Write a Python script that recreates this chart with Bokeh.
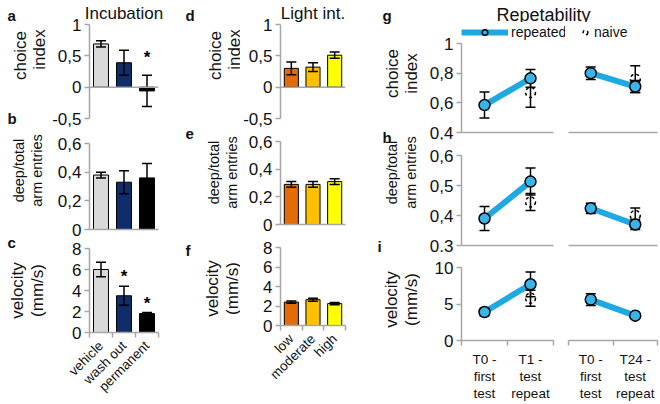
import math
import numpy as np
from bokeh.plotting import figure
from bokeh.layouts import row, column
from bokeh.models import (Range1d, FixedTicker, CustomJSTickFormatter, Span, Label,
                          Legend, LegendItem, ColumnDataSource)
from bokeh.embed import file_html
from bokeh.resources import INLINE
from bokeh.core.properties import value

# ---------------- data ----------------
incub_cats = ["vehicle", "wash out", "permanent"]
incub_choice = [0.69, 0.39, -0.06]
incub_choice_err = [0.05, 0.20, 0.25]
incub_choice_star = [None, None, 0.47]
incub_deep = [0.38, 0.33, 0.36]
incub_deep_err = [0.02, 0.08, 0.10]
incub_vel = [6.0, 3.5, 1.8]
incub_vel_err = [0.7, 0.9, 0.1]
incub_vel_star = [None, 5.3, 2.8]

light_cats = ["low", "moderate", "high"]
light_choice = [0.30, 0.32, 0.51]
light_choice_err = [0.10, 0.07, 0.05]
light_deep = [0.29, 0.29, 0.31]
light_deep_err = [0.02, 0.02, 0.02]
light_vel = [2.4, 2.65, 2.25]
light_vel_err = [0.12, 0.15, 0.12]

choice_ticks = [-0.5, 0, 0.5, 1]
deep_ticks = [0, 0.2, 0.4, 0.6]
vel_ticks = [0, 2, 4, 6, 8]

rep_labels_t1 = ["T0 -\nfirst\ntest", "T1 -\ntest\nrepeat"]
rep_labels_t24 = ["T0 -\nfirst\ntest", "T24 -\ntest\nrepeat"]
rep_choice_t1 = [0.585, 0.765]
rep_choice_t1_err = [0.088, 0.06]
naive_choice_t1 = [None, 0.67]
naive_choice_t1_err = [None, 0.10]
rep_choice_t24 = [0.80, 0.71]
rep_choice_t24_err = [0.042, 0.04]
naive_choice_t24 = [None, 0.76]
naive_choice_t24_err = [None, 0.09]
rep_deep_t1 = [0.39, 0.513]
rep_deep_t1_err = [0.04, 0.045]
naive_deep_t1 = [None, 0.445]
naive_deep_t1_err = [None, 0.028]
rep_deep_t24 = [0.424, 0.37]
rep_deep_t24_err = [0.017, 0.017]
naive_deep_t24 = [None, 0.40]
naive_deep_t24_err = [None, 0.025]
rep_vel_t1 = [3.9, 7.7]
rep_vel_t1_err = [0.5, 1.7]
naive_vel_t1 = [None, 5.8]
naive_vel_t1_err = [None, 1.1]
rep_vel_t24 = [5.6, 3.4]
rep_vel_t24_err = [0.8, 0.25]
naive_vel_t24 = [None, 3.4]
naive_vel_t24_err = [None, 0.2]
rep_choice_ticks = [0.4, 0.6, 0.8, 1]
rep_deep_ticks = [0.3, 0.4, 0.5, 0.6]
rep_vel_ticks = [0, 5, 10]

# ---------------- styles ----------------
FONT = "Liberation Sans"
GRAY = "#A6A6A6"
TXT = "#111111"
incub_colors = ["#D9D9D9", "#0F2D6B", "#000000"]
light_colors = ["#E36C09", "#FFC000", "#FFFF00"]
BLUE_LINE = "#1FA9E3"
BLUE_FILL = "#38B4E6"
TICK_FS = "17px"

num_fmt = "return String(Math.round(tick*10)/10).replace('.', ',')"


def make_fig(w, h, bl, br, bt, bb, xr, yr, yaxis=True, xaxis=True):
    p = figure(width=w, height=h, x_range=Range1d(*xr), y_range=Range1d(*yr),
               output_backend="svg", toolbar_location=None,
               min_border_left=bl, min_border_right=br, min_border_top=bt, min_border_bottom=bb,
               x_axis_location="below" if xaxis else None,
               y_axis_location="left" if yaxis else None)
    p.outline_line_color = None
    p.grid.visible = False
    p.background_fill_color = "white"
    p.border_fill_color = "white"
    return p


def strip(w, h):
    s = figure(width=w, height=h, x_range=Range1d(0, 1), y_range=Range1d(0, 1),
               output_backend="svg", toolbar_location=None,
               x_axis_location=None, y_axis_location=None,
               min_border_left=0, min_border_right=0, min_border_top=0, min_border_bottom=0)
    s.outline_line_color = None
    s.grid.visible = False
    return s


def put(s, x0, y0, h, X, Y, text, fs, bold=False, align="left", angle=0.0):
    s.add_layout(Label(x=X - x0, y=h - (Y - y0), x_units="screen", y_units="screen",
                       angle=angle, text=text, text_font=FONT, text_font_size=fs,
                       text_font_style="bold" if bold else "normal", text_color=TXT,
                       text_align=align, text_baseline="alphabetic"))


def set_title(p, text):
    p.title.text = text
    p.title.align = "center"
    p.title.text_font = FONT
    p.title.text_font_size = "17px"
    p.title.text_font_style = "normal"
    p.title.text_color = TXT
    p.title.standoff = 3


def style_yaxis(p, ticks, bounds=None):
    ax = p.yaxis[0]
    ax.ticker = FixedTicker(ticks=ticks, minor_ticks=[])
    ax.formatter = CustomJSTickFormatter(code=num_fmt)
    if bounds is not None:
        ax.bounds = bounds
    ax.axis_line_color = GRAY
    ax.axis_line_width = 1.5
    ax.major_tick_line_color = GRAY
    ax.major_tick_line_width = 1.5
    ax.major_tick_out = 5
    ax.major_tick_in = 0
    ax.minor_tick_line_color = None
    ax.major_label_text_font = FONT
    ax.major_label_text_font_size = TICK_FS
    ax.major_label_text_color = TXT
    ax.major_label_standoff = 3


def style_xaxis_line(p, bounds=None):
    ax = p.xaxis[0]
    ax.ticker = FixedTicker(ticks=[], minor_ticks=[])
    if bounds is not None:
        ax.bounds = bounds
    ax.axis_line_color = GRAY
    ax.axis_line_width = 1.5
    ax.major_tick_line_color = None
    ax.minor_tick_line_color = None
    ax.major_tick_out = 0
    ax.major_tick_in = 0
    ax.minor_tick_out = 0
    ax.major_label_standoff = 0
    ax.major_label_text_font_size = "0px"


def style_xaxis_cat(p, labels, fs, orientation, line_height=1.2):
    n = len(labels)
    ax = p.xaxis[0]
    ax.ticker = FixedTicker(ticks=[i + 0.5 for i in range(n)], minor_ticks=list(range(n + 1)))
    ax.formatter = CustomJSTickFormatter(args=dict(labels=labels), code="return labels[Math.floor(tick)]")
    ax.axis_line_color = GRAY
    ax.axis_line_width = 1.5
    ax.major_tick_line_color = None
    ax.major_tick_out = 0
    ax.major_tick_in = 0
    ax.minor_tick_line_color = GRAY
    ax.minor_tick_line_width = 1.5
    ax.minor_tick_out = 5
    ax.minor_tick_in = 0
    ax.major_label_text_font = FONT
    ax.major_label_text_font_size = fs
    ax.major_label_text_color = TXT
    ax.major_label_text_line_height = line_height
    ax.major_label_standoff = 6
    ax.major_label_orientation = orientation


def bars(p, vals, errs, colors, stars=None):
    n = len(vals)
    xs = np.arange(n) + 0.5
    v = np.array(vals, dtype=float)
    e = np.array(errs, dtype=float)
    src = ColumnDataSource(dict(x=xs, top=v, lo=v - e, hi=v + e, color=colors))
    p.vbar(x="x", top="top", bottom=0, width=0.65, fill_color="color", line_color="black",
           line_width=1, source=src)
    p.segment(x0="x", y0="lo", x1="x", y1="hi", line_color="black", line_width=1.5, source=src)
    p.scatter(x="x", y="hi", marker="dash", size=10, line_color="black", line_width=1.5, source=src)
    p.scatter(x="x", y="lo", marker="dash", size=10, line_color="black", line_width=1.5, source=src)
    if stars is not None:
        sx = [x for x, s in zip(xs, stars) if s is not None]
        sy = [s for s in stars if s is not None]
        p.text(x=sx, y=sy, text=["*"] * len(sx), text_font=value(FONT), text_font_size="17px",
               text_font_style="bold", text_align="center", text_baseline="middle", text_color="black")


def rep(p, vals, errs, nvals, nerrs):
    xs = np.arange(len(vals)) + 0.5
    v = np.array(vals, dtype=float)
    e = np.array(errs, dtype=float)
    line_r = p.line(x=xs, y=v, line_color=BLUE_LINE, line_width=6)
    nx = [x for x, nv in zip(xs, nvals) if nv is not None]
    nv = np.array([a for a in nvals if a is not None], dtype=float)
    ne = np.array([a for a in nerrs if a is not None], dtype=float)
    nsrc = ColumnDataSource(dict(x=nx, y=nv, lo=nv - ne, hi=nv + ne))
    p.segment(x0="x", y0="lo", x1="x", y1="hi", line_color="black", line_width=1.5, source=nsrc)
    p.scatter(x="x", y="hi", marker="dash", size=10, line_color="black", line_width=1.5, source=nsrc)
    p.scatter(x="x", y="lo", marker="dash", size=10, line_color="black", line_width=1.5, source=nsrc)
    naive_r = p.scatter(x="x", y="y", marker="circle", size=10, fill_color=None, line_color="black",
                        line_width=1.5, line_dash="3 3", source=nsrc)
    src = ColumnDataSource(dict(x=xs, y=v, lo=v - e, hi=v + e))
    p.segment(x0="x", y0="lo", x1="x", y1="hi", line_color="black", line_width=1.5, source=src)
    p.scatter(x="x", y="hi", marker="dash", size=10, line_color="black", line_width=1.5, source=src)
    p.scatter(x="x", y="lo", marker="dash", size=10, line_color="black", line_width=1.5, source=src)
    mark_r = p.scatter(x="x", y="y", marker="circle", size=11, fill_color=BLUE_FILL, line_color="black",
                       line_width=1.5, source=src)
    return line_r, mark_r, naive_r


ROT = math.pi / 2

# ---------------- column 1 : Incubation ----------------
L1 = strip(47, 404)
for (X, Y, t) in ((7, 15, "a"), (7, 118, "b"), (7, 242, "c")):
    put(L1, 0, 0, 404, X, Y, t, "15px", bold=True)
for (t, bx, cy, fs) in (("choice", 20, 55, "17px"), ("index", 39, 49, "17px"),
                        ("deep/total", 18, 170, "14.5px"), ("arm entries", 36, 170, "14.5px"),
                        ("velocity", 17, 290, "17px"), ("(mm/s)", 37, 290, "17px")):
    put(L1, 0, 0, 404, bx, cy, t, fs, align="center", angle=ROT)

a = make_fig(133, 131, 42, 22, 24, 13, (0, 3), (-0.5, 1), xaxis=False)
set_title(a, "Incubation")
style_yaxis(a, choice_ticks)
a.add_layout(Span(location=0, dimension="width", line_color=GRAY, line_width=1.5))
bars(a, incub_choice, incub_choice_err, incub_colors, incub_choice_star)

b = make_fig(133, 107, 41, 22, 12, 9, (0, 3), (0, 0.6))
style_yaxis(b, deep_ticks)
style_xaxis_line(b)
bars(b, incub_deep, incub_deep_err, incub_colors)

c = make_fig(133, 166, 42, 22, 10, 72, (0, 3), (0, 8))
style_yaxis(c, vel_ticks)
style_xaxis_cat(c, incub_cats, "13.5px", math.pi / 4)
bars(c, incub_vel, incub_vel_err, incub_colors, incub_vel_star)

col1 = row(L1, column(a, b, c))

# ---------------- column 2 : Light intensity ----------------
L2 = strip(60, 404)
for (X, Y, t) in ((185, 15, "d"), (185, 133, "e"), (185, 250, "f")):
    put(L2, 180, 0, 404, X, Y, t, "15px", bold=True)
for (t, bx, cy, fs) in (("choice", 215, 55, "17px"), ("index", 234, 49, "17px"),
                        ("deep/total", 213, 172, "14.5px"), ("arm entries", 231, 172, "14.5px"),
                        ("velocity", 212, 288, "17px"), ("(mm/s)", 232, 288, "17px")):
    put(L2, 180, 0, 404, bx, cy, t, fs, align="center", angle=ROT)

d = make_fig(132, 131, 39, 27, 24, 13, (0, 3), (-0.5, 1), xaxis=False)
set_title(d, "Light int.")
style_yaxis(d, choice_ticks)
d.add_layout(Span(location=0, dimension="width", line_color=GRAY, line_width=1.5))
bars(d, light_choice, light_choice_err, light_colors)

e = make_fig(132, 105, 39, 27, 10, 12, (0, 3), (0, 0.6))
style_yaxis(e, deep_ticks)
style_xaxis_line(e)
bars(e, light_deep, light_deep_err, light_colors)

f = make_fig(132, 168, 39, 27, 11, 79, (0, 3), (0, 8))
style_yaxis(f, vel_ticks)
style_xaxis_cat(f, light_cats, "13.5px", math.pi / 4)
bars(f, light_vel, light_vel_err, light_colors)

col2 = row(L2, column(d, e, f))

# ---------------- column 3 : Repeatability ----------------
L3 = strip(48, 404)
for (X, Y, t) in ((382, 15, "g"), (382, 137, "h"), (377, 246, "i")):
    put(L3, 372, 0, 404, X, Y, t, "15px", bold=True)
for (t, bx, cy, fs) in (("choice", 392, 73, "17px"), ("index", 411, 73, "17px"),
                        ("deep/total", 391, 172, "14.5px"), ("arm entries", 410, 172, "14.5px"),
                        ("velocity", 391, 299, "17px"), ("(mm/s)", 411, 299, "17px")):
    put(L3, 372, 0, 404, bx, cy, t, fs, align="center", angle=ROT)

T3 = strip(240, 22)
put(T3, 420, 0, 22, 543, 14, "Repetability", "18px", align="center")

# g row: frame extended upward/rightward to host the legend; axes bounded to the data span
g_top = 1 + (43 - 26) * 0.6 / 89
g_right = 2 * 104 / 92
gl = make_fig(145, 118, 41, 0, 4, 8, (0, g_right), (0.4, g_top))
style_yaxis(gl, rep_choice_ticks, bounds=(0.4, 1))
style_xaxis_line(gl, bounds=(0, 2))
gr = make_fig(95, 118, 3, 3, 4, 8, (0, 2), (0.4, g_top), yaxis=False)
style_xaxis_line(gr)
l_line, l_mark, _ = rep(gl, rep_choice_t1, rep_choice_t1_err, naive_choice_t1, naive_choice_t1_err)
_, _, r_naive = rep(gr, rep_choice_t24, rep_choice_t24_err, naive_choice_t24, naive_choice_t24_err)
leg_kw = dict(orientation="horizontal", glyph_height=14, label_height=14, label_standoff=3,
              padding=0, margin=0, spacing=0, border_line_color=None, background_fill_alpha=0,
              label_text_font=FONT, label_text_font_size="14px", label_text_color=TXT)
gl.add_layout(Legend(items=[LegendItem(label="repeated", renderers=[l_line, l_mark])],
                     location=(0, 92), glyph_width=47, **leg_kw))
gr.add_layout(Legend(items=[LegendItem(label="naive", renderers=[r_naive])],
                     location=(11, 92), glyph_width=12, **leg_kw))

hl = make_fig(145, 112, 41, 12, 15, 7, (0, 2), (0.3, 0.6))
style_yaxis(hl, rep_deep_ticks)
style_xaxis_line(hl)
hr = make_fig(95, 112, 3, 3, 15, 7, (0, 2), (0.3, 0.6), yaxis=False)
style_xaxis_line(hr)
rep(hl, rep_deep_t1, rep_deep_t1_err, naive_deep_t1, naive_deep_t1_err)
rep(hr, rep_deep_t24, rep_deep_t24_err, naive_deep_t24, naive_deep_t24_err)

il = make_fig(145, 152, 41, 12, 15, 57, (0, 2), (0, 10))
style_yaxis(il, rep_vel_ticks)
style_xaxis_cat(il, rep_labels_t1, "13.5px", "horizontal", 1.15)
ir = make_fig(95, 152, 3, 3, 15, 57, (0, 2), (0, 10), yaxis=False)
style_xaxis_cat(ir, rep_labels_t24, "13.5px", "horizontal", 1.15)
rep(il, rep_vel_t1, rep_vel_t1_err, naive_vel_t1, naive_vel_t1_err)
rep(ir, rep_vel_t24, rep_vel_t24_err, naive_vel_t24, naive_vel_t24_err)

col3 = row(L3, column(T3, row(gl, gr), row(hl, hr), row(il, ir)))

layout = row(col1, col2, col3)
open("out.html", "w").write(file_html(layout, INLINE))
